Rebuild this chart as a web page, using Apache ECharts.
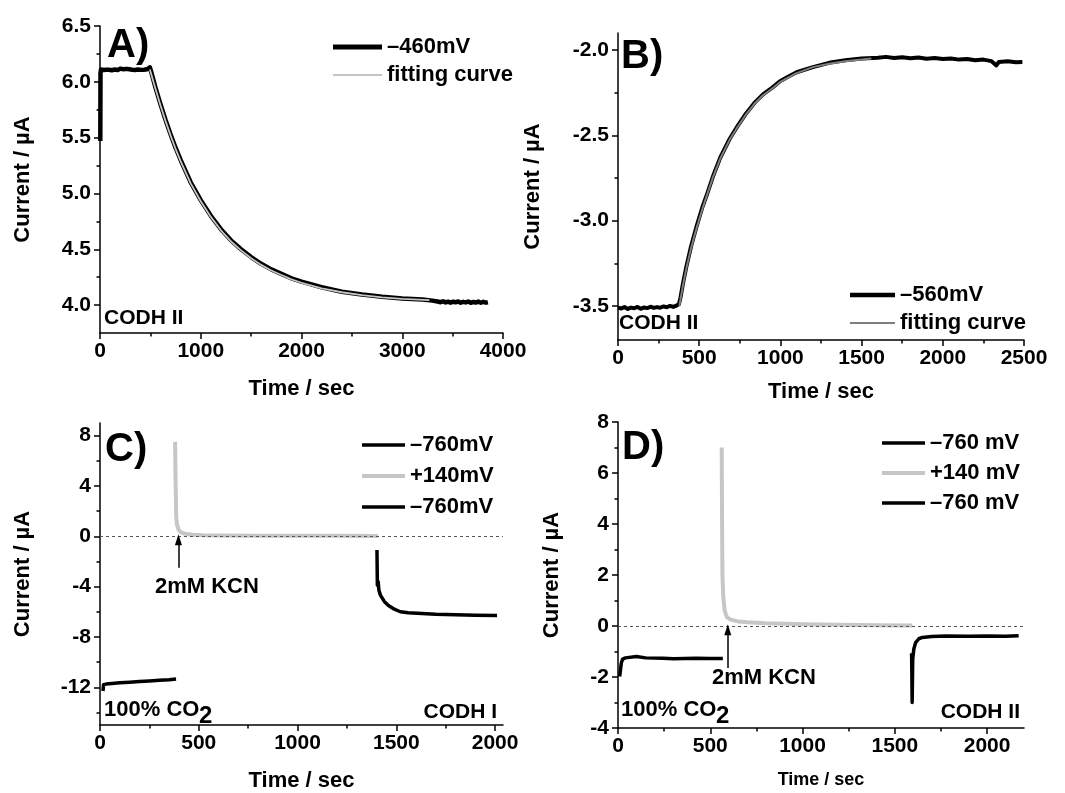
<!DOCTYPE html>
<html><head><meta charset="utf-8">
<script src="https://cdn.jsdelivr.net/npm/echarts@6/dist/echarts.min.js"></script>
<style>html,body{margin:0;padding:0;background:#fff}#c{width:1065px;height:793px}</style>
</head><body><div id="c"></div>
<script>
// ---------- DATA ----------
// Panel A: -460 mV, CODH II
const a460 = [[3,5.47],[5,6.08],[10,6.11],[22,6.118],[35,6.106],[47,6.114],[61,6.109],[74,6.12],[88,6.108],[103,6.113],[117,6.104],[130,6.117],[146,6.11],[160,6.115],[175,6.106],[190,6.112],[204,6.118],[219,6.107],[233,6.113],[248,6.109],[262,6.116],[277,6.105],[291,6.112],[306,6.118],[320,6.108],[335,6.114],[349,6.106],[364,6.116],[378,6.11],[393,6.117],[407,6.107],[422,6.114],[436,6.109],[451,6.118],[466,6.112],[480,6.12],[495,6.13],[505,6.10],[550,5.95],[600,5.80],[650,5.66],[700,5.53],[750,5.41],[800,5.30],[900,5.10],[1000,4.94],[1100,4.80],[1200,4.68],[1300,4.58],[1400,4.50],[1500,4.43],[1600,4.37],[1700,4.32],[1800,4.28],[1900,4.24],[2000,4.21],[2200,4.16],[2400,4.12],[2600,4.095],[2800,4.075],[3000,4.06],[3200,4.05],[3300,4.04],[3350,4.032],[3380,4.026],[3405,4.034],[3430,4.024],[3455,4.031],[3480,4.022],[3505,4.03],[3530,4.025],[3555,4.033],[3580,4.021],[3605,4.029],[3630,4.024],[3655,4.032],[3680,4.02],[3705,4.028],[3730,4.023],[3755,4.031],[3780,4.021],[3805,4.029],[3830,4.022],[3850,4.026]];
const aFit = [[495,6.11],[550,5.94],[600,5.79],[650,5.65],[700,5.52],[750,5.40],[800,5.29],[900,5.09],[1000,4.93],[1100,4.79],[1200,4.67],[1300,4.57],[1400,4.49],[1500,4.42],[1600,4.36],[1700,4.31],[1800,4.27],[1900,4.23],[2000,4.20],[2200,4.15],[2400,4.115],[2600,4.09],[2800,4.07],[3000,4.055],[3270,4.045]];
// Panel B: -560 mV, CODH II
const b560 = [[0,-3.51],[20,-3.515],[40,-3.507],[60,-3.518],[80,-3.51],[100,-3.514],[120,-3.506],[140,-3.517],[160,-3.509],[180,-3.513],[200,-3.505],[220,-3.512],[240,-3.507],[260,-3.511],[280,-3.503],[300,-3.508],[320,-3.5],[340,-3.506],[360,-3.498],[375,-3.49],[385,-3.45],[400,-3.37],[421,-3.27],[450,-3.15],[482,-3.04],[520,-2.92],[550,-2.84],[585,-2.74],[630,-2.63],[688,-2.52],[740,-2.44],[790,-2.37],[840,-2.31],[893,-2.26],[950,-2.22],[995,-2.185],[1050,-2.155],[1100,-2.13],[1200,-2.10],[1300,-2.075],[1400,-2.06],[1500,-2.05],[1600,-2.045],[1650,-2.04],[1700,-2.047],[1750,-2.042],[1800,-2.048],[1850,-2.044],[1900,-2.051],[1950,-2.047],[2000,-2.053],[2050,-2.049],[2100,-2.056],[2150,-2.052],[2200,-2.06],[2250,-2.056],[2300,-2.065],[2330,-2.09],[2345,-2.07],[2400,-2.066],[2450,-2.072],[2490,-2.07]];
const bFit = [[378,-3.50],[385,-3.46],[400,-3.38],[421,-3.28],[450,-3.16],[482,-3.05],[520,-2.93],[550,-2.845],[585,-2.745],[630,-2.635],[688,-2.525],[740,-2.445],[790,-2.375],[840,-2.315],[893,-2.265],[950,-2.225],[995,-2.19],[1050,-2.16],[1100,-2.135],[1200,-2.10],[1300,-2.08],[1400,-2.065],[1560,-2.05]];
// Panel C: CODH I
const c760a = [[15,-12.3],[18,-11.8],[30,-11.75],[60,-11.7],[100,-11.65],[150,-11.6],[200,-11.55],[250,-11.5],[300,-11.45],[350,-11.4],[385,-11.35]];
const c140 = [[380,7.5],[383,4.0],[386,1.5],[390,0.9],[398,0.5],[410,0.3],[430,0.2],[470,0.12],[520,0.08],[600,0.06],[800,0.04],[1000,0.03],[1200,0.03],[1407,0.02]];
const c760b = [[1402,-1.1],[1404,-3.9],[1408,-3.6],[1412,-4.3],[1420,-4.7],[1440,-5.2],[1460,-5.5],[1490,-5.8],[1520,-6.0],[1560,-6.08],[1605,-6.12],[1700,-6.2],[1800,-6.24],[1900,-6.27],[2010,-6.3]];
const cArrow = [[397,-2.5],[397,-0.27]];
// Panel D: CODH II
const d760a = [[9,-1.98],[14,-2.0],[18,-1.45],[25,-1.3],[40,-1.25],[100,-1.2],[150,-1.25],[243,-1.26],[300,-1.28],[423,-1.26],[500,-1.27],[568,-1.27]];
const d140 = [[562,7.0],[564,4.0],[566,2.0],[570,1.2],[578,0.6],[590,0.35],[610,0.25],[650,0.18],[700,0.15],[800,0.11],[900,0.09],[1000,0.07],[1200,0.05],[1400,0.03],[1595,0.02]];
const d760b = [[1591,-1.07],[1594,-3.0],[1597,-1.3],[1603,-0.9],[1613,-0.65],[1630,-0.5],[1649,-0.45],[1700,-0.41],[1775,-0.39],[1900,-0.40],[2000,-0.39],[2100,-0.40],[2171,-0.38]];
const dArrow = [[595,-1.65],[595,-0.15]];

// ---------- TICKS ----------
const axTicksX = [0,1000,2000,3000,4000], axMinorX = [500,1500,2500,3500], axLabelsX = ['0','1000','2000','3000','4000'];
const ayTicks = [4.0,4.5,5.0,5.5,6.0,6.5], ayMinor = [4.25,4.75,5.25,5.75,6.25], ayLabels = ['4.0','4.5','5.0','5.5','6.0','6.5'];
const bxTicks = [0,500,1000,1500,2000,2500], bxMinor = [250,750,1250,1750,2250], bxLabels = ['0','500','1000','1500','2000','2500'];
const byTicks = [-3.5,-3.0,-2.5,-2.0], byMinor = [-3.25,-2.75,-2.25], byLabels = ['-3.5','-3.0','-2.5','-2.0'];
const cxTicks = [0,500,1000,1500,2000], cxMinor = [250,750,1250,1750], cxLabels = ['0','500','1000','1500','2000'];
const cyTicks = [-12,-8,-4,0,4,8], cyMinor = [-14,-10,-6,-2,2,6], cyLabels = ['-12','-8','-4','0','4','8'];
const dxTicks = [0,500,1000,1500,2000], dxMinor = [250,750,1250,1750], dxLabels = ['0','500','1000','1500','2000'];
const dyTicks = [-4,-2,0,2,4,6,8], dyMinor = [-3,-1,1,3,5,7], dyLabels = ['-4','-2','0','2','4','6','8'];

// ---------- BUILD ----------
const FONT = "'Liberation Sans', Arial, Helvetica, sans-serif";
const BLACK = '#000';
function axisPair(dim, g, c) {
  const fmt = v => { const i = c.major.findIndex(m => Math.abs(m - v) < 1e-9); return i >= 0 ? c.labels[i] : ''; };
  const pos = dim === 'x' ? 'bottom' : 'left';
  const main = {
    type: 'value', gridIndex: g, min: c.min, max: c.max, position: pos,
    axisLine: { show: true, onZero: false, lineStyle: { color: BLACK, width: 1.5 } },
    axisTick: { show: true, inside: false, length: 6, customValues: c.major, lineStyle: { color: BLACK, width: 1.5 } },
    axisLabel: { show: true, customValues: c.major, formatter: fmt, fontSize: 21, fontWeight: 'bold', fontFamily: FONT, color: BLACK, margin: c.margin },
    splitLine: { show: false },
    name: c.name, nameLocation: 'middle', nameGap: c.nameGap,
    nameTextStyle: { fontSize: c.nameSize || 22, fontWeight: 'bold', fontFamily: FONT, color: BLACK }
  };
  const minor = {
    type: 'value', gridIndex: g, min: c.min, max: c.max, position: pos,
    axisLine: { show: false, onZero: false },
    axisTick: { show: true, inside: false, length: 3.5, customValues: c.minor, lineStyle: { color: BLACK, width: 1.5 } },
    axisLabel: { show: false }, splitLine: { show: false }
  };
  return [main, minor];
}
const xAxis = [].concat(
  axisPair('x', 0, { min: 0, max: 4000, major: axTicksX, minor: axMinorX, labels: axLabelsX, name: 'Time / sec', nameGap: 45, margin: 8 }),
  axisPair('x', 1, { min: 0, max: 2500, major: bxTicks, minor: bxMinor, labels: bxLabels, name: 'Time / sec', nameGap: 41, margin: 8 }),
  axisPair('x', 2, { min: 0, max: 2040, major: cxTicks, minor: cxMinor, labels: cxLabels, name: 'Time / sec', nameGap: 45, margin: 8 }),
  axisPair('x', 3, { min: 0, max: 2200, major: dxTicks, minor: dxMinor, labels: dxLabels, name: 'Time / sec', nameGap: 43, margin: 8, nameSize: 18 })
);
const yAxis = [].concat(
  axisPair('y', 0, { min: 3.75, max: 6.5, major: ayTicks, minor: ayMinor, labels: ayLabels, name: 'Current / \u00b5A', nameGap: 66, margin: 9 }),
  axisPair('y', 1, { min: -3.7, max: -1.9, major: byTicks, minor: byMinor, labels: byLabels, name: 'Current / \u00b5A', nameGap: 74, margin: 9 }),
  axisPair('y', 2, { min: -15, max: 9, major: cyTicks, minor: cyMinor, labels: cyLabels, name: 'Current / \u00b5A', nameGap: 66, margin: 9 }),
  axisPair('y', 3, { min: -4, max: 8, major: dyTicks, minor: dyMinor, labels: dyLabels, name: 'Current / \u00b5A', nameGap: 55, margin: 9 })
);
function line(name, g, data, color, width, extra) {
  return Object.assign({
    type: 'line', name, xAxisIndex: 2 * g, yAxisIndex: 2 * g, data,
    symbol: 'none', showSymbol: false, animation: false, silent: true,
    color, itemStyle: { color }, lineStyle: { color, width, join: 'round' }
  }, extra || {});
}
const zeroLine = { silent: true, animation: false, symbol: ['none', 'none'], label: { show: false },
  lineStyle: { type: [3, 3], color: '#555', width: 1 }, data: [{ yAxis: 0 }] };
function arrowMark(a) {
  return { silent: true, animation: false, symbol: ['none', 'triangle'], symbolSize: [7, 11], label: { show: false },
    lineStyle: { type: 'solid', color: BLACK, width: 1.5 }, itemStyle: { color: BLACK },
    data: [[{ coord: a[0] }, { coord: a[1] }]] };
}
const GREY = '#c6c6c6';
const series = [
  line('\u2013460mV', 0, a460, BLACK, 4.5),
  line('fitting curve', 0, aFit, '#c4c4c4', 1.8),
  line('\u2013560mV', 1, b560, BLACK, 4),
  line('fitting curve ', 1, bFit, '#7f7f7f', 2),
  line('\u2013760mV', 2, c760a, BLACK, 3.5, { markLine: zeroLine }),
  line('+140mV', 2, c140, GREY, 4, { markLine: arrowMark(cArrow) }),
  line('\u2013760mV ', 2, c760b, BLACK, 3.5),
  line('\u2013760 mV', 3, d760a, BLACK, 3.5, { markLine: zeroLine }),
  line('+140 mV', 3, d140, GREY, 4, { markLine: arrowMark(dArrow) }),
  line('\u2013760 mV ', 3, d760b, BLACK, 3.5)
];
function legendItem(name, h) { return { name, icon: 'path://M0,0H48V' + h + 'H0Z', itemStyle: { borderWidth: 0 } }; }
const legTxt = { fontSize: 22, fontWeight: 'bold', fontFamily: FONT, color: BLACK };
function legend(left, top, w, gap, items) {
  return { left, top, orient: 'vertical', itemWidth: w, itemHeight: 12, itemGap: gap, selectedMode: false,
    padding: 0, textStyle: legTxt, data: items };
}
const legends = [
  legend(333, 36, 49, 6, [legendItem('\u2013460mV', 5), legendItem('fitting curve', 2)]),
  legend(850, 284, 45, 6, [legendItem('\u2013560mV', 5), legendItem('fitting curve ', 2)]),
  legend(362, 434, 43, 9, [legendItem('\u2013760mV', 4), legendItem('+140mV', 4.5), legendItem('\u2013760mV ', 4)]),
  legend(882, 432, 43, 8, [legendItem('\u2013760 mV', 4), legendItem('+140 mV', 4.5), legendItem('\u2013760 mV ', 4)])
];
function txt(text, x, y, size, align) {
  return { type: 'text', x, y, silent: true,
    style: { text, font: 'bold ' + size + 'px ' + FONT, fill: BLACK, textAlign: align || 'left', textVerticalAlign: 'middle' } };
}
const graphic = [
  txt('A)', 107, 46, 40), txt('CODH II', 104, 318, 21),
  txt('B)', 621, 57, 40), txt('CODH II', 619, 323, 21),
  txt('C)', 105, 450, 40), txt('100% CO', 104, 710, 22), txt('2', 199, 716, 24), txt('CODH I', 497, 712, 21, 'right'),
  txt('2mM KCN', 155, 587, 22),
  txt('D)', 622, 448, 40), txt('100% CO', 621, 710, 22), txt('2', 716, 716, 24), txt('CODH II', 1020, 712, 21, 'right'),
  txt('2mM KCN', 712, 678, 22)
];
const chart = echarts.init(document.getElementById('c'), null, { renderer: 'canvas' });
chart.setOption({
  backgroundColor: '#fff', animation: false,
  grid: [
    { left: 100, top: 26, width: 403, height: 307 },
    { left: 618, top: 33, width: 406, height: 307 },
    { left: 100, top: 423, width: 403, height: 305 },
    { left: 618, top: 422, width: 406, height: 306 }
  ],
  xAxis, yAxis, series, legend: legends, graphic
});
</script></body></html>
